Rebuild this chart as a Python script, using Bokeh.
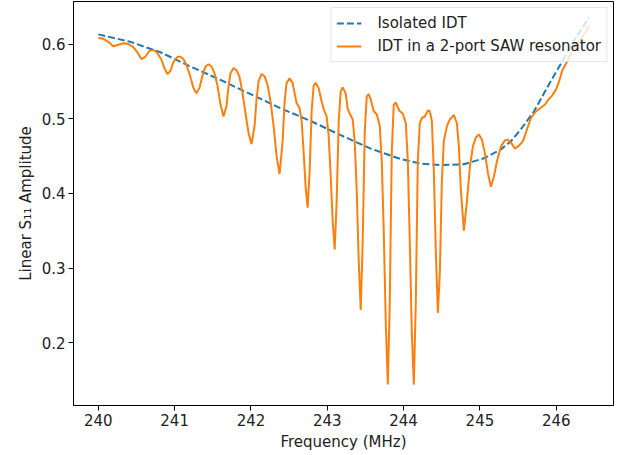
from bokeh.plotting import figure
from bokeh.models import Range1d, FixedTicker, Legend, LegendItem
from bokeh.embed import file_html
from bokeh.resources import INLINE

# Isolated IDT (dashed)
freq_idt = [240.000, 240.420, 240.814, 241.207, 241.601, 241.995, 242.388, 242.782,
            243.176, 243.569, 243.963, 244.226, 244.488, 244.790, 245.052, 245.275,
            245.407, 245.538, 245.709, 245.840, 245.971, 246.063, 246.155, 246.286,
            246.430]
amp_idt = [0.613, 0.603, 0.589, 0.570, 0.552, 0.533, 0.514, 0.497,
           0.478, 0.460, 0.446, 0.440, 0.438, 0.439, 0.447, 0.459,
           0.470, 0.486, 0.510, 0.534, 0.558, 0.574, 0.591, 0.613,
           0.636]

# IDT in a 2-port SAW resonator
freq_saw = [240.000, 240.066, 240.131, 240.197, 240.262, 240.328, 240.394, 240.459, 240.512, 240.564,
            240.617, 240.669, 240.722, 240.774, 240.827, 240.866, 240.905, 240.945, 240.984, 241.037,
            241.076, 241.115, 241.155, 241.207, 241.247, 241.286, 241.325, 241.365, 241.404, 241.444,
            241.483, 241.522, 241.562, 241.601, 241.640, 241.680, 241.706, 241.732, 241.772, 241.811,
            241.850, 241.890, 241.929, 241.968, 242.008, 242.047, 242.073, 242.100, 242.139, 242.178,
            242.218, 242.257, 242.297, 242.336, 242.375, 242.415, 242.441, 242.467, 242.506, 242.546,
            242.572, 242.598, 242.638, 242.664, 242.690, 242.716, 242.743, 242.769, 242.795, 242.821,
            242.848, 242.887, 242.926, 242.953, 242.992, 243.018, 243.045, 243.071, 243.097, 243.123,
            243.150, 243.176, 243.202, 243.241, 243.268, 243.294, 243.333, 243.359, 243.386, 243.412,
            243.438, 243.464, 243.491, 243.517, 243.543, 243.569, 243.609, 243.648, 243.688, 243.714,
            243.740, 243.766, 243.793, 243.819, 243.845, 243.871, 243.898, 243.924, 243.950, 243.989,
            244.029, 244.055, 244.081, 244.107, 244.134, 244.160, 244.186, 244.212, 244.239, 244.278,
            244.317, 244.344, 244.370, 244.396, 244.422, 244.449, 244.475, 244.501, 244.527, 244.567,
            244.606, 244.659, 244.698, 244.724, 244.751, 244.790, 244.829, 244.869, 244.908, 244.947,
            244.987, 245.026, 245.065, 245.105, 245.144, 245.184, 245.223, 245.275, 245.328, 245.367,
            245.407, 245.459, 245.512, 245.564, 245.617, 245.669, 245.735, 245.800, 245.853, 245.892,
            245.945, 245.997, 246.037, 246.076, 246.128, 246.194, 246.260, 246.325, 246.391, 246.430]
amp_saw = [0.608, 0.607, 0.603, 0.597, 0.599, 0.601, 0.600, 0.596, 0.589, 0.580,
           0.583, 0.591, 0.592, 0.588, 0.579, 0.568, 0.560, 0.564, 0.576, 0.583,
           0.583, 0.580, 0.572, 0.556, 0.541, 0.534, 0.541, 0.558, 0.570, 0.573,
           0.570, 0.561, 0.544, 0.519, 0.503, 0.517, 0.544, 0.561, 0.568, 0.565,
           0.556, 0.534, 0.507, 0.481, 0.466, 0.490, 0.526, 0.550, 0.560, 0.557,
           0.545, 0.523, 0.490, 0.450, 0.426, 0.470, 0.523, 0.548, 0.554, 0.548,
           0.534, 0.521, 0.514, 0.497, 0.456, 0.409, 0.381, 0.430, 0.510, 0.544,
           0.548, 0.541, 0.523, 0.513, 0.503, 0.477, 0.423, 0.362, 0.325, 0.389,
           0.497, 0.537, 0.542, 0.534, 0.513, 0.507, 0.499, 0.470, 0.403, 0.309,
           0.244, 0.336, 0.483, 0.530, 0.533, 0.526, 0.510, 0.506, 0.490, 0.443,
           0.349, 0.228, 0.144, 0.255, 0.456, 0.519, 0.522, 0.515, 0.510, 0.507,
           0.494, 0.443, 0.336, 0.215, 0.144, 0.255, 0.443, 0.494, 0.501, 0.503,
           0.511, 0.510, 0.497, 0.430, 0.322, 0.240, 0.295, 0.416, 0.470, 0.490,
           0.499, 0.505, 0.494, 0.463, 0.403, 0.350, 0.389, 0.436, 0.463, 0.475,
           0.479, 0.472, 0.454, 0.427, 0.409, 0.423, 0.443, 0.463, 0.471, 0.472,
           0.468, 0.460, 0.464, 0.470, 0.486, 0.501, 0.510, 0.515, 0.519, 0.525,
           0.531, 0.539, 0.550, 0.564, 0.574, 0.588, 0.599, 0.608, 0.617, 0.625]

x_ticks = [240, 241, 242, 243, 244, 245, 246]
y_ticks = [0.2, 0.3, 0.4, 0.5, 0.6]

FONT = "DejaVu Sans"
FS = "15px"

p = figure(width=620, height=455, output_backend="svg", toolbar_location=None,
           x_range=Range1d(239.675, 246.75), y_range=Range1d(0.116, 0.657),
           min_border_left=73, min_border_right=7, min_border_top=1, min_border_bottom=50)

p.background_fill_color = "white"
p.border_fill_color = "white"
p.outline_line_color = "black"
p.outline_line_width = 1
p.xgrid.visible = False
p.ygrid.visible = False

r1 = p.line(freq_idt, amp_idt, line_color="#1f77b4", line_width=2, line_dash="7 3")
r2 = p.line(freq_saw, amp_saw, line_color="#ff7f0e", line_width=2)

for ax in (p.xaxis[0], p.yaxis[0]):
    ax.axis_line_color = "black"
    ax.major_tick_line_color = "black"
    ax.major_tick_out = 5
    ax.major_tick_in = 0
    ax.minor_tick_line_color = None
    ax.major_label_text_font = FONT
    ax.major_label_text_font_size = FS
    ax.major_label_text_color = "#222222"
    ax.major_label_standoff = 3
    ax.axis_label_text_font = FONT
    ax.axis_label_text_font_size = FS
    ax.axis_label_text_font_style = "normal"
    ax.axis_label_text_color = "#222222"
    ax.axis_label_standoff = 4

p.xaxis.ticker = FixedTicker(ticks=x_ticks)
p.yaxis.ticker = FixedTicker(ticks=y_ticks)
p.xaxis.axis_label = "Frequency (MHz)"
p.yaxis.axis_label = "Linear S\u2081\u2081 Amplitude"

legend = Legend(items=[LegendItem(label="Isolated IDT", renderers=[r1]),
                       LegendItem(label="IDT in a 2-port SAW resonator", renderers=[r2])],
                location="top_right")
legend.margin = 6
legend.padding = 5
legend.spacing = 3
legend.glyph_width = 25
legend.glyph_height = 20
legend.label_standoff = 16
legend.label_text_font = FONT
legend.label_text_font_size = FS
legend.label_text_color = "#222222"
legend.border_line_color = "#cccccc"
legend.background_fill_alpha = 0.8
legend.label_height = 20
p.add_layout(legend)

open("out.html", "w").write(file_html(p, INLINE))
